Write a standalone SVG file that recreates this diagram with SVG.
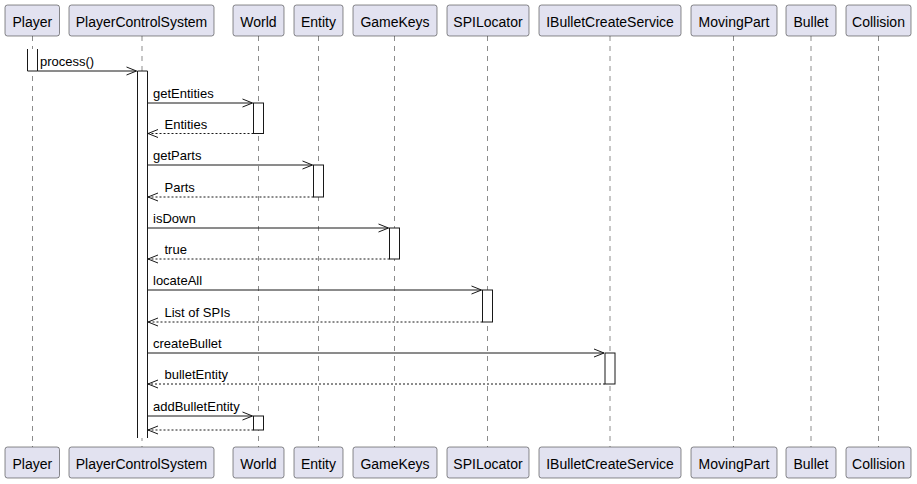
<svg xmlns="http://www.w3.org/2000/svg" width="917" height="484" viewBox="0 0 917 484">
<style>
.box{fill:#E2E2F0;stroke:#181818;stroke-width:0.5}
.ptxt{font-family:"Liberation Sans",Arial,sans-serif;font-size:14px;fill:#000;text-anchor:middle}
.mtxt{font-family:"Liberation Sans",Arial,sans-serif;font-size:13px;fill:#000}
.life{stroke:#181818;stroke-width:0.5;stroke-dasharray:5,5;fill:none}
.act{fill:#FFFFFF;stroke:#181818;stroke-width:1}
.msg{stroke:#181818;stroke-width:1;fill:none}
.ret{stroke:#181818;stroke-width:1;stroke-dasharray:2,2;fill:none}
</style>
<defs>
<marker id="arr" viewBox="0 0 11 10" refX="10.5" refY="5" markerWidth="11" markerHeight="10" markerUnits="userSpaceOnUse" orient="auto">
<path d="M0.5,1 L10.5,5 L0.5,9" fill="none" stroke="#181818" stroke-width="1"/>
</marker>
</defs>
<rect width="917" height="484" fill="#FFFFFF"/>
<g id="lifelines">
<line class="life" x1="32.5" y1="36" x2="32.5" y2="447"/>
<line class="life" x1="142" y1="36" x2="142" y2="447"/>
<line class="life" x1="258.5" y1="36" x2="258.5" y2="447"/>
<line class="life" x1="318.5" y1="36" x2="318.5" y2="447"/>
<line class="life" x1="394.5" y1="36" x2="394.5" y2="447"/>
<line class="life" x1="487.5" y1="36" x2="487.5" y2="447"/>
<line class="life" x1="610" y1="36" x2="610" y2="447"/>
<line class="life" x1="733.5" y1="36" x2="733.5" y2="447"/>
<line class="life" x1="811" y1="36" x2="811" y2="447"/>
<line class="life" x1="878.5" y1="36" x2="878.5" y2="447"/>
</g>
<g id="activations">
<rect x="27.5" y="49" width="10" height="22" fill="#FFFFFF"/>
<path d="M27.5,49 V71 H37.5 V49" class="msg"/>
<rect x="137.5" y="71" width="10" height="367" fill="#FFFFFF"/>
<path d="M137.5,438 V71 H147.5 V438" class="msg"/>
<rect class="act" x="253.5" y="103" width="10" height="30.5"/>
<rect class="act" x="313.5" y="165" width="10" height="32"/>
<rect class="act" x="389.5" y="228" width="10" height="31"/>
<rect class="act" x="482.5" y="290" width="10" height="32"/>
<rect class="act" x="605" y="353" width="10" height="31"/>
<rect class="act" x="253.5" y="416" width="10" height="14"/>
</g>
<g id="node-Player">
<rect class="box" x="5" y="5" width="54.5" height="31" rx="2.5"/>
<text class="ptxt" x="32.3" y="26.5">Player</text>
<rect class="box" x="5" y="447" width="54.5" height="31" rx="2.5"/>
<text class="ptxt" x="32.3" y="468.5">Player</text>
</g>
<g id="node-PlayerControlSystem">
<rect class="box" x="69" y="5" width="145" height="31" rx="2.5"/>
<text class="ptxt" x="141.5" y="26.5">PlayerControlSystem</text>
<rect class="box" x="69" y="447" width="145" height="31" rx="2.5"/>
<text class="ptxt" x="141.5" y="468.5">PlayerControlSystem</text>
</g>
<g id="node-World">
<rect class="box" x="233" y="5" width="51" height="31" rx="2.5"/>
<text class="ptxt" x="258.5" y="26.5">World</text>
<rect class="box" x="233" y="447" width="51" height="31" rx="2.5"/>
<text class="ptxt" x="258.5" y="468.5">World</text>
</g>
<g id="node-Entity">
<rect class="box" x="294" y="5" width="49" height="31" rx="2.5"/>
<text class="ptxt" x="318.5" y="26.5">Entity</text>
<rect class="box" x="294" y="447" width="49" height="31" rx="2.5"/>
<text class="ptxt" x="318.5" y="468.5">Entity</text>
</g>
<g id="node-GameKeys">
<rect class="box" x="353" y="5" width="84" height="31" rx="2.5"/>
<text class="ptxt" x="395" y="26.5">GameKeys</text>
<rect class="box" x="353" y="447" width="84" height="31" rx="2.5"/>
<text class="ptxt" x="395" y="468.5">GameKeys</text>
</g>
<g id="node-SPILocator">
<rect class="box" x="447" y="5" width="82" height="31" rx="2.5"/>
<text class="ptxt" x="488" y="26.5">SPILocator</text>
<rect class="box" x="447" y="447" width="82" height="31" rx="2.5"/>
<text class="ptxt" x="488" y="468.5">SPILocator</text>
</g>
<g id="node-IBulletCreateService">
<rect class="box" x="539" y="5" width="142" height="31" rx="2.5"/>
<text class="ptxt" x="610" y="26.5">IBulletCreateService</text>
<rect class="box" x="539" y="447" width="142" height="31" rx="2.5"/>
<text class="ptxt" x="610" y="468.5">IBulletCreateService</text>
</g>
<g id="node-MovingPart">
<rect class="box" x="691" y="5" width="86" height="31" rx="2.5"/>
<text class="ptxt" x="734" y="26.5">MovingPart</text>
<rect class="box" x="691" y="447" width="86" height="31" rx="2.5"/>
<text class="ptxt" x="734" y="468.5">MovingPart</text>
</g>
<g id="node-Bullet">
<rect class="box" x="786" y="5" width="50" height="31" rx="2.5"/>
<text class="ptxt" x="811" y="26.5">Bullet</text>
<rect class="box" x="786" y="447" width="50" height="31" rx="2.5"/>
<text class="ptxt" x="811" y="468.5">Bullet</text>
</g>
<g id="node-Collision">
<rect class="box" x="846" y="5" width="65" height="31" rx="2.5"/>
<text class="ptxt" x="878.5" y="26.5">Collision</text>
<rect class="box" x="846" y="447" width="65" height="31" rx="2.5"/>
<text class="ptxt" x="878.5" y="468.5">Collision</text>
</g>
<g id="connectors">
<line class="msg" x1="37.5" y1="71" x2="136.5" y2="71" marker-end="url(#arr)"/>
<text class="mtxt" x="40" y="66">process()</text>
<line class="msg" x1="147.5" y1="103" x2="252.5" y2="103" marker-end="url(#arr)"/>
<text class="mtxt" x="153" y="98">getEntities</text>
<line class="ret" x1="253.5" y1="133.5" x2="148" y2="133.5" marker-end="url(#arr)"/>
<text class="mtxt" x="164.5" y="128.5">Entities</text>
<line class="msg" x1="147.5" y1="165" x2="312.5" y2="165" marker-end="url(#arr)"/>
<text class="mtxt" x="153" y="160">getParts</text>
<line class="ret" x1="313.5" y1="197" x2="148" y2="197" marker-end="url(#arr)"/>
<text class="mtxt" x="164.5" y="192">Parts</text>
<line class="msg" x1="147.5" y1="228" x2="388.5" y2="228" marker-end="url(#arr)"/>
<text class="mtxt" x="153" y="223">isDown</text>
<line class="ret" x1="389.5" y1="259" x2="148" y2="259" marker-end="url(#arr)"/>
<text class="mtxt" x="164.5" y="254">true</text>
<line class="msg" x1="147.5" y1="290" x2="481.5" y2="290" marker-end="url(#arr)"/>
<text class="mtxt" x="153" y="285">locateAll</text>
<line class="ret" x1="482.5" y1="322" x2="148" y2="322" marker-end="url(#arr)"/>
<text class="mtxt" x="164.5" y="317">List of SPIs</text>
<line class="msg" x1="147.5" y1="353" x2="604" y2="353" marker-end="url(#arr)"/>
<text class="mtxt" x="153" y="348">createBullet</text>
<line class="ret" x1="605" y1="384" x2="148" y2="384" marker-end="url(#arr)"/>
<text class="mtxt" x="164.5" y="379">bulletEntity</text>
<line class="msg" x1="147.5" y1="416" x2="252.5" y2="416" marker-end="url(#arr)"/>
<text class="mtxt" x="153" y="411">addBulletEntity</text>
<line class="ret" x1="253.5" y1="430" x2="148" y2="430" marker-end="url(#arr)"/>
</g>
</svg>
